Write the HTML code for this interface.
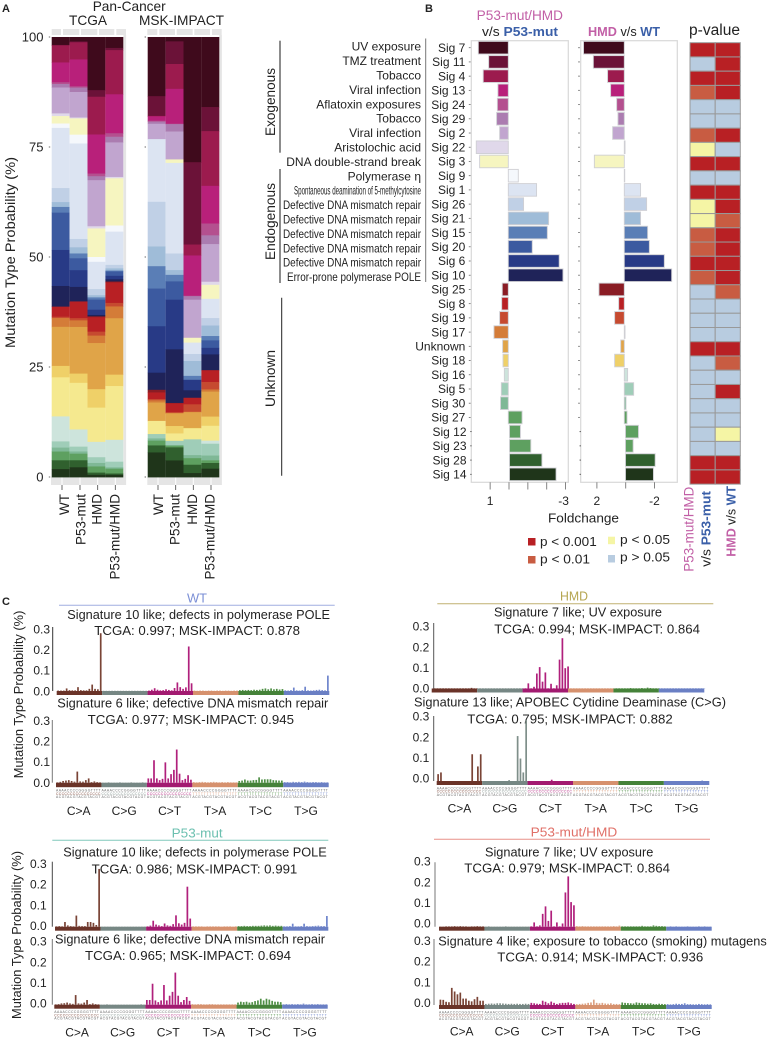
<!DOCTYPE html>
<html lang="en">
<head>
<meta charset="utf-8">
<title>Mutational signatures figure</title>
<style>
html,body{margin:0;padding:0;background:#fff;}
#figure{display:block;width:767px;height:1041px;filter:blur(0.3px);font-family:"Liberation Sans",sans-serif;fill:#222;}
text{font-family:"Liberation Sans",sans-serif;}
.t12{font-size:12px;}
.t13{font-size:13px;}
.t14{font-size:13.7px;}
.b{font-weight:bold;}
</style>
</head>
<body>
<svg id="figure" xmlns="http://www.w3.org/2000/svg" width="767" height="1041" viewBox="0 0 767 1041">
  <rect x="0" y="0" width="767" height="1041" fill="#fff"/>

  <!-- Panel letters -->
  <text x="2" y="12" font-size="11" class="b">A</text>
  <text x="425" y="12" font-size="11" class="b">B</text>
  <text x="2" y="605" font-size="11" class="b">C</text>

  <!-- Panel A headings -->
  <text x="92.7" y="11" class="t14" textLength="73" lengthAdjust="spacingAndGlyphs">Pan-Cancer</text>
  <text x="69" y="25" class="t14" textLength="38" lengthAdjust="spacingAndGlyphs">TCGA</text>
  <text x="139" y="25" class="t14" textLength="85" lengthAdjust="spacingAndGlyphs">MSK-IMPACT</text>
  <text transform="translate(15,348) rotate(-90)" class="t14" textLength="191" lengthAdjust="spacingAndGlyphs">Mutation Type Probability (%)</text>

  <g id="panelA"></g>

  <!-- Panel B headings -->
  <text x="476.7" y="20" font-size="13.5" fill="#c25fa6" textLength="86.3" lengthAdjust="spacingAndGlyphs">P53-mut/HMD</text>
  <text x="482" y="36" font-size="13" textLength="76" lengthAdjust="spacingAndGlyphs">v/s <tspan class="b" fill="#3a5fa8">P53-mut</tspan></text>
  <text x="588" y="36" font-size="13" textLength="72" lengthAdjust="spacingAndGlyphs"><tspan class="b" fill="#c25fa6">HMD</tspan> v/s <tspan class="b" fill="#3a5fa8">WT</tspan></text>
  <text x="689" y="35" font-size="15.5" textLength="51" lengthAdjust="spacingAndGlyphs">p-value</text>

  <!-- Category brackets -->
  <line x1="280" y1="40.7" x2="280" y2="152.7" stroke="#666" stroke-width="1.5"/>
  <line x1="280" y1="169" x2="280" y2="283" stroke="#666" stroke-width="1.5"/>
  <line x1="281.7" y1="297.7" x2="281.7" y2="475.7" stroke="#222" stroke-width="1"/>
  <line x1="425.7" y1="38.5" x2="425.7" y2="282" stroke="#777" stroke-width="1"/>
  <text transform="translate(275,136) rotate(-90)" class="t14" textLength="68" lengthAdjust="spacingAndGlyphs">Exogenous</text>
  <text transform="translate(275,260) rotate(-90)" class="t14" textLength="77" lengthAdjust="spacingAndGlyphs">Endogenous</text>
  <text transform="translate(275,407) rotate(-90)" class="t14" textLength="57" lengthAdjust="spacingAndGlyphs">Unknown</text>

  <!-- Aetiology labels -->
  <g class="t12" text-anchor="end">
    <text x="421" y="50.7">UV exposure</text>
    <text x="421" y="65">TMZ treatment</text>
    <text x="421" y="79.5">Tobacco</text>
    <text x="421" y="93.9">Viral infection</text>
    <text x="421" y="108.3">Aflatoxin exposures</text>
    <text x="421" y="122.7">Tobacco</text>
    <text x="421" y="137.1">Viral infection</text>
    <text x="421" y="151.5">Aristolochic acid</text>
    <text x="421" y="165.9">DNA double-strand break</text>
    <text x="421" y="180.3" font-family="'Liberation Sans','DejaVu Sans',sans-serif">Polymerase η</text>
    <text x="421" y="194.7" font-size="12" textLength="127" lengthAdjust="spacingAndGlyphs">Spontaneous deamination of 5-methylcytosine</text>
    <text x="421" y="209.1" textLength="138" lengthAdjust="spacingAndGlyphs">Defective DNA mismatch repair</text>
    <text x="421" y="223.5" textLength="138" lengthAdjust="spacingAndGlyphs">Defective DNA mismatch repair</text>
    <text x="421" y="237.9" textLength="138" lengthAdjust="spacingAndGlyphs">Defective DNA mismatch repair</text>
    <text x="421" y="252.3" textLength="138" lengthAdjust="spacingAndGlyphs">Defective DNA mismatch repair</text>
    <text x="421" y="266.7" textLength="138" lengthAdjust="spacingAndGlyphs">Defective DNA mismatch repair</text>
    <text x="421" y="281" textLength="134" lengthAdjust="spacingAndGlyphs">Error-prone polymerase POLE</text>
  </g>

  <g id="panelB"></g>

  <text x="548" y="522.7" class="t13" textLength="71" lengthAdjust="spacingAndGlyphs">Foldchange</text>

  <!-- p-value legend -->
  <rect x="528" y="538" width="7.5" height="7.5" fill="#b82024"/>
  <text x="540" y="546" class="t13" textLength="56.7" lengthAdjust="spacingAndGlyphs">p &lt; 0.001</text>
  <rect x="528" y="556" width="7.5" height="7.5" fill="#c85c42"/>
  <text x="540" y="563.5" class="t13" textLength="50" lengthAdjust="spacingAndGlyphs">p &lt; 0.01</text>
  <rect x="608" y="536.7" width="7" height="7.5" fill="#f5f5a5"/>
  <text x="620" y="544" class="t13" textLength="50" lengthAdjust="spacingAndGlyphs">p &lt; 0.05</text>
  <rect x="608" y="555" width="7" height="7.5" fill="#b8cce0"/>
  <text x="620" y="561.7" class="t13" textLength="50" lengthAdjust="spacingAndGlyphs">p &gt; 0.05</text>

  <!-- Heatmap column labels -->
  <text transform="translate(693.5,571.7) rotate(-90)" font-size="13.5" fill="#c25fa6" textLength="85" lengthAdjust="spacingAndGlyphs">P53-mut/HMD</text>
  <text transform="translate(710.5,566.7) rotate(-90)" font-size="13" textLength="75.7" lengthAdjust="spacingAndGlyphs">v/s <tspan class="b" fill="#3a5fa8">P53-mut</tspan></text>
  <text transform="translate(735.5,556.7) rotate(-90)" font-size="13" textLength="70.7" lengthAdjust="spacingAndGlyphs"><tspan class="b" fill="#c25fa6">HMD</tspan> v/s <tspan class="b" fill="#3a5fa8">WT</tspan></text>

  <!-- Panel C headings -->
  <text x="187" y="602.7" class="t13" fill="#7b8fd6" textLength="20" lengthAdjust="spacingAndGlyphs">WT</text>
  <line x1="59" y1="605.3" x2="334.7" y2="605.3" stroke="#a0aee0" stroke-width="1"/>
  <text x="67.3" y="619" class="t13" textLength="262.7" lengthAdjust="spacingAndGlyphs">Signature 10 like; defects in polymerase POLE</text>
  <text x="94.3" y="635" class="t13" textLength="205.7" lengthAdjust="spacingAndGlyphs">TCGA: 0.997; MSK-IMPACT: 0.878</text>
  <text x="57.3" y="707.3" class="t13" textLength="271" lengthAdjust="spacingAndGlyphs">Signature 6 like; defective DNA mismatch repair</text>
  <text x="87.7" y="724" class="t13" textLength="206.3" lengthAdjust="spacingAndGlyphs">TCGA: 0.977; MSK-IMPACT: 0.945</text>
  <text transform="translate(23,778.3) rotate(-90)" class="t13" textLength="167.7" lengthAdjust="spacingAndGlyphs">Mutation Type Probability (%)</text>

  <text x="560" y="600.7" class="t13" fill="#b5a550" textLength="28" lengthAdjust="spacingAndGlyphs">HMD</text>
  <line x1="437.3" y1="603.7" x2="713.3" y2="603.7" stroke="#c0b070" stroke-width="1"/>
  <text x="494" y="616.7" class="t13" textLength="168" lengthAdjust="spacingAndGlyphs">Signature 7 like; UV exposure</text>
  <text x="494.3" y="633.3" class="t13" textLength="205.7" lengthAdjust="spacingAndGlyphs">TCGA: 0.994; MSK-IMPACT: 0.864</text>
  <text x="414" y="706.7" class="t13" textLength="312" lengthAdjust="spacingAndGlyphs">Signature 13 like; APOBEC Cytidine Deaminase (C&gt;G)</text>
  <text x="467.3" y="723.3" class="t13" textLength="205.4" lengthAdjust="spacingAndGlyphs">TCGA: 0.795; MSK-IMPACT: 0.882</text>

  <text x="171.7" y="837.7" class="t13" fill="#6cc0b0" textLength="51" lengthAdjust="spacingAndGlyphs">P53-mut</text>
  <line x1="52.3" y1="840.3" x2="328.3" y2="840.3" stroke="#80c8bc" stroke-width="1"/>
  <text x="63.3" y="856.7" class="t13" textLength="263.4" lengthAdjust="spacingAndGlyphs">Signature 10 like; defects in polymerase POLE</text>
  <text x="91.7" y="873.3" class="t13" textLength="205.6" lengthAdjust="spacingAndGlyphs">TCGA: 0.986; MSK-IMPACT: 0.991</text>
  <text x="55" y="943.7" class="t13" textLength="270" lengthAdjust="spacingAndGlyphs">Signature 6 like; defective DNA mismatch repair</text>
  <text x="85" y="960" class="t13" textLength="206" lengthAdjust="spacingAndGlyphs">TCGA: 0.965; MSK-IMPACT: 0.694</text>
  <text transform="translate(21,1019) rotate(-90)" class="t13" textLength="168" lengthAdjust="spacingAndGlyphs">Mutation Type Probability (%)</text>

  <text x="530.7" y="836.7" class="t13" fill="#e07068" textLength="86.6" lengthAdjust="spacingAndGlyphs">P53-mut/HMD</text>
  <line x1="434" y1="839.3" x2="710" y2="839.3" stroke="#e89088" stroke-width="1"/>
  <text x="485" y="856.3" class="t13" textLength="168.3" lengthAdjust="spacingAndGlyphs">Signature 7 like; UV exposure</text>
  <text x="464.3" y="872.7" class="t13" textLength="205.7" lengthAdjust="spacingAndGlyphs">TCGA: 0.979; MSK-IMPACT: 0.864</text>
  <text x="438.3" y="945.7" class="t13" textLength="328.4" lengthAdjust="spacingAndGlyphs">Signature 4 like; exposure to tobacco (smoking) mutagens</text>
  <text x="497.3" y="961.7" class="t13" textLength="206" lengthAdjust="spacingAndGlyphs">TCGA: 0.914; MSK-IMPACT: 0.936</text>

  <g id="panelC"></g>
</svg>

<script>
/* ---------- Panel A data: percent contribution, stacked top to bottom ---------- */
const stackSignatures = ['Sig 7','Sig 11','Sig 4','Sig 13','Sig 24','Sig 29','Sig 2','Sig 22','Sig 3','Sig 9','Sig 1','Sig 26','Sig 21','Sig 15','Sig 20','Sig 6','Sig 10','Sig 25','Sig 8','Sig 19','Sig 17','Unknown','Sig 18','Sig 18b','Sig 16','Sig 5','Sig 30','Sig 27','Sig 28','Sig 14'];
const stackColors = ['#3f0a1c','#6b1238','#9c1b4e','#b8207a','#b4508f','#ab7cb0','#c1a5cf','#e0d8ea','#f6f5c0','#f5f8fc','#dce4f2','#c0d0e6','#9fbcd8','#5a7eb6','#3c5aa0','#283a86','#1f2359','#8a1c24','#b82024','#c64a30','#d47c38','#e0a448','#efd068','#f5e98f','#cde4dc','#9fcdb8','#7fb896','#5ea060','#30602e','#1f351a'];
const stackCategories = ['WT','P53-mut','HMD','P53-mut/HMD'];
const stackTicks = [0,25,50,75,100];
const tcgaWT = [1.8,0.1,3.9,4.5,0.4,0.8,5.9,0.6,1.7,1.0,13.7,3.2,1.1,1.3,8.5,8.2,4.7,0,2.3,0.3,2.0,8.9,2.6,8.9,5.7,1.4,0.9,2.0,2.0,1.8];
const tcgaP53 = [1.0,0.2,3.9,6.1,0.3,1.0,5.8,0.2,3.7,2.0,21.7,1.9,1.4,1.1,2.7,3.8,3.3,0,3.8,0.5,1.5,10.6,2.1,10.6,3.9,1.1,0.5,1.5,1.6,2.2];
const tcgaHMD = [12.1,1.5,8.6,8.9,0.6,0.9,10.5,0.5,6.5,1.1,6.2,1.4,0.5,0.5,2.3,1.2,0.3,0.2,3.3,0.9,1.7,10.5,4.2,7.8,3.5,1.3,0.8,1.4,0.5,0.5];
const tcgaP53HMD = [2.5,0.5,10.1,8.9,0.8,1.3,7.9,0.3,10.8,1.4,7.6,0.8,0.5,0.2,1.0,0.8,0.5,0.2,4.7,0.8,2.7,12.9,2.6,12.3,5.0,1.3,0.3,1.1,0.3,0.5];
const mskWT = [13.5,4.5,0.1,1.0,0.2,0.5,3.5,0,0,0,14.3,10.2,4.5,5.1,8.6,10.6,3.9,0.6,1.5,0.3,0.5,4.2,0,3.0,0,1.0,0.5,1.1,1.6,5.6];
const mskP53 = [1.0,5.2,5.7,8.0,0.1,1.7,6.4,0,0.8,0,20.8,3.8,1.1,1.5,4.2,11.4,12.3,0.1,2.0,0.2,0.1,2.9,1.7,1.7,0,1.0,0.1,0.4,3.0,3.8];
const mskHMD = [28.6,18.8,2.5,9.2,0.1,0.8,8.7,0,1.1,0,2.6,1.6,3.4,0.9,0,2.4,1.7,0,1.5,1.7,0.1,3.6,0.1,2.5,0,3.6,0.7,1.5,1.9,0.9];
const mskP53HMD = [16,5.5,12.5,8.6,2.7,2.0,8.6,0.7,3.2,0,4.4,1.7,2.4,1.0,1.7,1.5,3.6,0,2.7,1.7,0.5,5.7,2.1,3.4,0.7,2.7,1.1,0.6,1.3,1.9];

/* ---------- Panel B data ---------- */
const rowLabels = ['Sig 7','Sig 11','Sig 4','Sig 13','Sig 24','Sig 29','Sig 2','Sig 22','Sig 3','Sig 9','Sig 1','Sig 26','Sig 21','Sig 15','Sig 20','Sig 6','Sig 10','Sig 25','Sig 8','Sig 19','Sig 17','Unknown','Sig 18','Sig 16','Sig 5','Sig 30','Sig 27','Sig 12','Sig 23','Sig 28','Sig 14'];
const rowColors = ['#3f0a1c','#6b1238','#9c1b4e','#b8207a','#b4508f','#ab7cb0','#c1a5cf','#e0d8ea','#f6f5c0','#f5f8fc','#dce4f2','#c0d0e6','#9fbcd8','#5a7eb6','#3c5aa0','#283a86','#1f2359','#8a1c24','#b82024','#c64a30','#d47c38','#e0a448','#efd068','#cde4dc','#9fcdb8','#7fb896','#5ea060','#5ea060','#5ea060','#30602e','#1f351a'];
const foldP53HMDvsP53 = [1.59,1.04,1.33,0.55,0.58,0.62,0.46,1.70,1.52,-0.53,-1.50,-0.81,-2.14,-2.07,-1.27,-2.70,-2.90,0.32,0.35,0.46,0.76,0.30,0.28,0.21,0.37,0.41,-0.73,-0.58,-1.13,-1.72,-2.47];
const foldHMDvsWT = [2.83,2.15,1.16,0.95,0.53,0.44,0.81,-0.05,2.08,-0.03,-1.13,-1.55,-1.13,-1.62,-1.74,-2.78,-3.29,1.76,0.39,0.67,-0.05,0.25,0.67,-0.23,-0.65,-0.12,-0.19,-0.90,-0.53,-2.06,-1.94];
const foldTicksLeft = [1,0,-1,-2,-3];
const foldTickLabelsLeft = ['1','','','','-3'];
const foldTicksRight = [2,0,-2];
const foldTickLabelsRight = ['2','','-2'];
/* p-value level: 3 = p<0.001, 2 = p<0.01, 1 = p<0.05, 0 = p>0.05 */
const pLevelColors = ['#b8cce0','#f5f5a5','#c85c42','#b82024'];
const pP53HMDvsP53 = [3,0,3,2,0,0,2,1,3,0,3,1,1,2,2,3,2,0,0,0,0,3,0,0,0,0,0,0,0,3,3];
const pHMDvsWT = [3,3,3,3,0,0,3,0,3,0,3,3,2,3,3,3,3,2,0,0,0,3,2,0,3,0,0,1,0,3,3];

/* ---------- Panel C data: 96-channel spectra ---------- */
const spectrumGroups = ['C>A','C>G','C>T','T>A','T>C','T>G'];
const spectrumTicks = [0,0.1,0.2,0.3];
const spectrumBarColors = ['#7a4436','#7f8f8a','#b0207c','#dca082','#4f8f45','#6f85cc'];
const spectrumStripColors = ['#6a3328','#768784','#a21a70','#d6916e','#458239','#6a7fc4'];
const contextFirst = 'AAAACCCCGGGGTTTT';
const contextMiddle = ['CCCCCCCCCCCCCCCC','CCCCCCCCCCCCCCCC','CCCCCCCCCCCCCCCC','TTTTTTTTTTTTTTTT','TTTTTTTTTTTTTTTT','TTTTTTTTTTTTTTTT'];
const contextLast = 'ACGTACGTACGTACGT';
const wtSig10 = [
.002,.002,.002,.012,.004,.003,.003,.018,.004,.003,.003,.01,.03,.01,.008,.27,
.001,.001,.001,.001,.001,.001,.001,.001,.001,.001,.001,.001,.001,.001,.001,.001,
.002,.006,.013,.006,.003,.004,.008,.005,.003,.014,.04,.018,.01,.017,.208,.036,
.002,.001,.002,.002,.001,.002,.002,.001,.002,.002,.001,.002,.002,.001,.002,.002,
.004,.005,.004,.005,.004,.006,.005,.006,.01,.012,.008,.012,.008,.01,.007,.009,
.003,.002,.004,.016,.003,.002,.004,.02,.003,.002,.003,.005,.006,.004,.003,.072];
const wtSig6 = [
.002,.004,.008,.01,.012,.008,.005,.052,.006,.005,.012,.02,.003,.006,.003,.002,
.001,.001,.002,.001,.001,.001,.002,.001,.001,.001,.002,.001,.001,.001,.002,.001,
.02,.02,.105,.02,.012,.018,.095,.02,.04,.06,.155,.042,.012,.018,.035,.014,
.003,.002,.003,.004,.003,.002,.003,.004,.003,.002,.003,.002,.003,.002,.002,.002,
.008,.01,.015,.01,.01,.012,.013,.025,.015,.016,.016,.016,.012,.011,.01,.01,
.003,.003,.002,.004,.003,.004,.003,.005,.003,.002,.003,.003,.002,.003,.002,.002];
const hmdSig7 = [
.001,.001,.001,.001,.001,.001,.001,.001,.001,.001,.001,.001,.001,.003,.001,.001,
.001,.001,.001,.001,.001,.001,.001,.001,.001,.001,.001,.001,.001,.001,.001,.001,
.001,.024,.001,.008,.07,.1,.032,.075,.001,.022,.001,.015,.135,.235,.095,.103,
.001,.001,.001,.001,.001,.001,.001,.001,.001,.001,.001,.001,.001,.001,.001,.001,
.001,.001,.001,.001,.001,.002,.001,.001,.001,.002,.001,.004,.002,.001,.001,.001,
.001,.001,.001,.001,.001,.001,.001,.001,.001,.001,.001,.001,.001,.001,.001,.001];
const hmdSig13 = [
.032,.04,0,0,0,0,0,0,0,0,0,0,.125,0,.068,.125,
0,0,0,0,0,0,0,0,0,.004,0,0,.21,.105,.04,.285,
0,0,0,0,0,0,0,0,.006,0,0,0,0,0,0,0,
0,0,0,0,0,0,0,0,0,0,0,0,0,0,0,0,
0,0,0,0,0,0,0,0,0,0,0,0,0,0,0,0,
0,0,0,0,0,0,0,0,0,0,0,0,0,.002,0,0];
const p53Sig10 = [
.002,.003,.002,.022,.006,.003,.002,.052,.004,.003,.003,.022,.022,.018,.008,.27,
.001,.001,.001,.001,.001,.001,.001,.001,.001,.001,.001,.001,.001,.001,.001,.001,
.002,.005,.028,.01,.006,.003,.015,.006,.004,.012,.053,.016,.01,.018,.187,.038,
.002,.002,.002,.002,.001,.002,.002,.002,.002,.002,.001,.002,.002,.002,.001,.002,
.003,.003,.004,.003,.003,.004,.004,.004,.005,.006,.005,.006,.004,.005,.004,.004,
.002,.002,.003,.014,.002,.002,.003,.014,.003,.002,.003,.004,.005,.003,.003,.05];
const p53Sig6 = [
.002,.003,.006,.007,.01,.006,.004,.045,.006,.005,.01,.022,.003,.006,.003,.002,
.001,.001,.002,.001,.001,.001,.001,.001,.001,.001,.001,.001,.001,.001,.002,.001,
.022,.022,.098,.02,.012,.02,.092,.02,.042,.06,.15,.042,.012,.022,.036,.018,
.003,.002,.003,.003,.002,.002,.003,.003,.002,.002,.002,.002,.002,.002,.002,.002,
.01,.014,.012,.014,.01,.012,.017,.02,.028,.02,.028,.024,.018,.014,.014,.012,
.002,.003,.002,.003,.002,.003,.002,.005,.002,.002,.003,.002,.003,.002,.002,.002];
const p53hmdSig7 = [
.001,.001,.002,.002,.002,.003,.002,.003,.002,.002,.001,.002,.002,.003,.002,.002,
.001,.002,.001,.001,.001,.001,.001,.002,.001,.001,.001,.001,.001,.001,.001,.001,
.002,.02,.002,.006,.06,.095,.027,.075,.002,.02,.002,.015,.16,.235,.115,.1,
.003,.002,.003,.002,.002,.002,.002,.002,.002,.002,.002,.002,.002,.003,.002,.005,
.002,.002,.002,.002,.002,.002,.002,.004,.002,.002,.002,.006,.004,.003,.003,.002,
.001,.002,.001,.002,.001,.001,.001,.002,.001,.001,.001,.002,.001,.002,.001,.001];
const p53hmdSig4 = [
.025,.024,.015,.013,.08,.063,.05,.058,.03,.03,.02,.017,.027,.038,.02,.02,
.005,.006,.007,.006,.008,.008,.007,.006,.005,.006,.005,.006,.005,.005,.006,.005,
.01,.008,.006,.005,.02,.015,.008,.016,.01,.005,.008,.01,.01,.012,.008,.005,
.004,.005,.006,.007,.01,.012,.025,.01,.008,.01,.007,.006,.008,.005,.005,.004,
.012,.01,.009,.008,.007,.012,.01,.008,.008,.006,.008,.005,.004,.006,.005,.004,
.004,.003,.004,.006,.005,.005,.008,.004,.004,.003,.003,.005,.004,.003,.004,.003];

/* ---------- helpers ---------- */
const SVG_NS = 'http://www.w3.org/2000/svg';
function shape(tag, parent) {
  const el = document.createElementNS(SVG_NS, tag);
  parent.appendChild(el);
  return el;
}
function box(parent, x, y, w, h, fill) {
  const el = shape('rect', parent);
  el.setAttribute('x', x);
  el.setAttribute('y', y);
  el.setAttribute('width', w);
  el.setAttribute('height', h);
  el.setAttribute('fill', fill);
  return el;
}
function stroke(parent, x1, y1, x2, y2, color, width) {
  const el = shape('line', parent);
  el.setAttribute('x1', x1);
  el.setAttribute('y1', y1);
  el.setAttribute('x2', x2);
  el.setAttribute('y2', y2);
  el.setAttribute('stroke', color);
  el.setAttribute('stroke-width', width);
  return el;
}
function label(parent, x, y, str, size, anchor) {
  const el = shape('text', parent);
  el.setAttribute('x', x);
  el.setAttribute('y', y);
  el.setAttribute('font-size', size);
  el.setAttribute('text-anchor', anchor);
  el.textContent = str;
  return el;
}

/* ---------- Panel A ---------- */
const panelA = document.getElementById('panelA');
const yStack = v => 477 - 4.4 * v;

function drawFacetFrame(strips, right, notches, left) {
  strips.forEach(s => {
    const strip = box(panelA, s[0], 29, s[1] - s[0], 6, '#e5e5e5');
    
    
  });
  const side = box(panelA, right, 35, 2.7, 442, '#e5e5e5');
  
  
  const bottom = box(panelA, left, 477, right + 2.7 - left, 8, '#e5e5e5');
  
  
  notches.forEach(n => {
    const notch = box(panelA, n - 0.5, 477, 1, 8, '#fff');
    
    
    const tick = stroke(panelA, n, 485, n, 490, '#444', 0.8);
    
    
  });
}
drawFacetFrame([[51.7,61],[63,79.3],[81,97.3],[99,114.3],[116.3,126]], 123.4, [62,80,97.7,115.3], 51);
drawFacetFrame([[147.3,157.3],[159.3,175],[176.7,192.7],[194.3,210],[212,221.7]], 219.2, [158,175.7,193.3,211], 147.3);

function drawStack(values, x, w) {
  const total = values.reduce((a, b) => a + b, 0);
  let running = 100;
  values.forEach((v, i) => {
    const h = v / total * 100;
    if (h <= 0) return;
    const seg = box(panelA, x, yStack(running), w, h * 4.4 + 0.4, stackColors[i]);
    
    
    const tip = shape('title', seg);
    tip.textContent = stackSignatures[i];
    running -= h;
  });
}
[tcgaWT, tcgaP53, tcgaHMD, tcgaP53HMD].forEach((vals, i) => drawStack(vals, 51.7 + i * 17.9, 17.9));
[mskWT, mskP53, mskHMD, mskP53HMD].forEach((vals, i) => drawStack(vals, 147.7 + i * 17.9, 17.9));

stackTicks.forEach(t => {
  const tl = label(panelA, 43.5, yStack(t) + 4.5, String(t), 13, 'end');
  
  
  const d1 = stroke(panelA, 48.8, yStack(t), 50.2, yStack(t), '#444', 0.8);
  
  
  const d2 = stroke(panelA, 144.6, yStack(t), 146, yStack(t), '#444', 0.8);
  
  
});

const tcgaLabelX = [69, 85.5, 101.6, 119.7];
const mskLabelX = [163, 179.7, 197, 214.7];
stackCategories.forEach((c, i) => {
  const a = label(panelA, 0, 0, c, 13.5, 'end');
  a.setAttribute('transform', 'translate(' + tcgaLabelX[i] + ',494) rotate(-90)');
  
  
  const b = label(panelA, 0, 0, c, 13.5, 'end');
  b.setAttribute('transform', 'translate(' + mskLabelX[i] + ',494) rotate(-90)');
  
  
});

/* ---------- Panel B ---------- */
const panelB = document.getElementById('panelB');
const yRow = i => 47.7 + 14.22 * i;
const xFoldLeft = v => 508.3 - 18.85 * v;
const xFoldRight = v => 624.3 - 14.4 * v;
const rowShift = i => (i >= 27 ? 1.2 : 0);

function drawFrame(x, y, w, h) {
  const f = box(panelB, x, y, w, h, '#fff');
  f.setAttribute('stroke', '#d8d8d8');
  f.setAttribute('stroke-width', '1.2');
  
  
}
drawFrame(471.3, 40.7, 97, 441.6);
drawFrame(580.7, 40.7, 96.6, 441.6);

function drawFoldBars(values, xScale) {
  values.forEach((v, i) => {
    const x0 = xScale(Math.max(v, 0)) + rowShift(i);
    const w = Math.abs(xScale(v) - xScale(0));
    const bar = box(panelB, x0, yRow(i) - 6.3, w, 12.6, rowColors[i]);
    bar.setAttribute('stroke', '#cfcfd4');
    bar.setAttribute('stroke-width', '0.9');
    
    
  });
}
drawFoldBars(foldP53HMDvsP53, xFoldLeft);
drawFoldBars(foldHMDvsWT, xFoldRight);

rowLabels.forEach((s, i) => {
  const t = label(panelB, 465.3 + rowShift(i), yRow(i) + 4.2, s, 12, 'end');
  
  
  const tk = stroke(panelB, 468.8 + rowShift(i), yRow(i), 470.6 + rowShift(i), yRow(i), '#666', 0.8);
  
  
  const dot = stroke(panelB, 578.4 + rowShift(i), yRow(i), 579.6 + rowShift(i), yRow(i), '#333', 0.9);
  
  
});

foldTicksLeft.forEach((v, i) => {
  const x = xFoldLeft(v) + 0.7;
  const tk = stroke(panelB, x, 482.3, x, 489.5, '#777', 0.9);
  
  
  if (foldTickLabelsLeft[i]) {
    const t = label(panelB, x - (v < 0 ? 2 : 0), 505, foldTickLabelsLeft[i], 12, 'middle');
    
    
  }
});
foldTicksRight.forEach((v, i) => {
  const x = xFoldRight(v) + 1.4;
  const tk = stroke(panelB, x, 482.3, x, 488.5, '#777', 0.9);
  
  
  if (foldTickLabelsRight[i]) {
    const t = label(panelB, x, 505, foldTickLabelsRight[i], 12, 'middle');
    
    
  }
});

function drawHeatColumn(levels, x, w) {
  levels.forEach((lvl, i) => {
    const cell = box(panelB, x, 42.7 + i * 14.24, w, 14.24, pLevelColors[lvl]);
    cell.setAttribute('stroke', '#999');
    cell.setAttribute('stroke-width', '1');
    
    
  });
}
drawHeatColumn(pP53HMDvsP53, 690, 25.2);
drawHeatColumn(pHMDvsWT, 715.2, 25.1);

/* ---------- Panel C ---------- */
const panelC = document.getElementById('panelC');

function drawSpectrum(values, layout) {
  const groupW = (layout.x1 - layout.x0) / 6;
  const cellW = groupW / 16;
  const xBar = i => layout.barX0 + i * cellW;
  const yBar = v => layout.zero - 214 * v;
  const yTickLabel = v => layout.labelZero - 206.7 * v;

  values.forEach((v, i) => {
    if (v <= 0) return;
    const bar = box(panelC, xBar(i) + cellW * 0.2, yBar(v), cellW * 0.6, v * 214, spectrumBarColors[Math.floor(i / 16)]);
    
    
  });
  spectrumGroups.forEach((g, k) => {
    const strip = box(panelC, layout.x0 + k * groupW, layout.zero, groupW, layout.stripH, spectrumStripColors[k]);
    
    
    if (layout.groupLabelY) {
      const cx = layout.x0 + (k + 0.5) * groupW;
      const gl = label(panelC, cx, layout.groupLabelY, g, 12, 'middle');
      
      
      [[contextFirst, '#666', 4.5], [contextMiddle[k], spectrumBarColors[k], 7.7], [contextLast, '#666', 10.9]].forEach(row => {
        const ctx = label(panelC, layout.x0 + k * groupW, layout.zero + layout.stripH + row[2], row[0], 3.4, 'start');
        ctx.setAttribute('textLength', groupW - 1);
        ctx.setAttribute('fill', row[1]);
        
        
      });
    }
  });
  const axis = stroke(panelC, layout.axisX, layout.axisTop, layout.axisX, layout.zero, layout.axisColor, 1);
  
  
  spectrumTicks.forEach(t => {
    const tl = label(panelC, layout.labelRight, yTickLabel(t) + 4.3, t.toFixed(1), 12, 'end');
    
    
  });
}

drawSpectrum(wtSig10, {x0:56.7, x1:329.3, barX0:56.7, zero:691, stripH:4, axisX:52.7, axisTop:627, axisColor:'#333', labelRight:50, labelZero:691});
drawSpectrum(wtSig6, {x0:56, x1:328.7, barX0:56, zero:782.7, stripH:4.5, axisX:52.3, axisTop:720, axisColor:'#777', labelRight:50, labelZero:782.5, groupLabelY:815});
drawSpectrum(hmdSig7, {x0:431.7, x1:704.3, barX0:433.2, zero:688.5, stripH:4, axisX:433.7, axisTop:623, axisColor:'#555', labelRight:429.3, labelZero:688.3});
drawSpectrum(hmdSig13, {x0:436.7, x1:709.3, barX0:436.7, zero:781, stripH:4, axisX:433.7, axisTop:716, axisColor:'#555', labelRight:429.3, labelZero:778.3, groupLabelY:812.7});
drawSpectrum(p53Sig10, {x0:55, x1:328.3, barX0:55, zero:926.7, stripH:4, axisX:52.3, axisTop:861.7, axisColor:'#444', labelRight:46.7, labelZero:925.7});
drawSpectrum(p53Sig6, {x0:54.3, x1:327.7, barX0:54.3, zero:1004.7, stripH:4, axisX:52.3, axisTop:939, axisColor:'#777', labelRight:46.7, labelZero:1003.3, groupLabelY:1036.3});
drawSpectrum(p53hmdSig7, {x0:439, x1:711.7, barX0:439, zero:926.7, stripH:4, axisX:435, axisTop:862.3, axisColor:'#777', labelRight:430.7, labelZero:923.3});
drawSpectrum(p53hmdSig4, {x0:439, x1:711.7, barX0:439, zero:1005, stripH:4, axisX:434, axisTop:939, axisColor:'#777', labelRight:430.7, labelZero:1002.7, groupLabelY:1035.7});
</script>
</body>
</html>
